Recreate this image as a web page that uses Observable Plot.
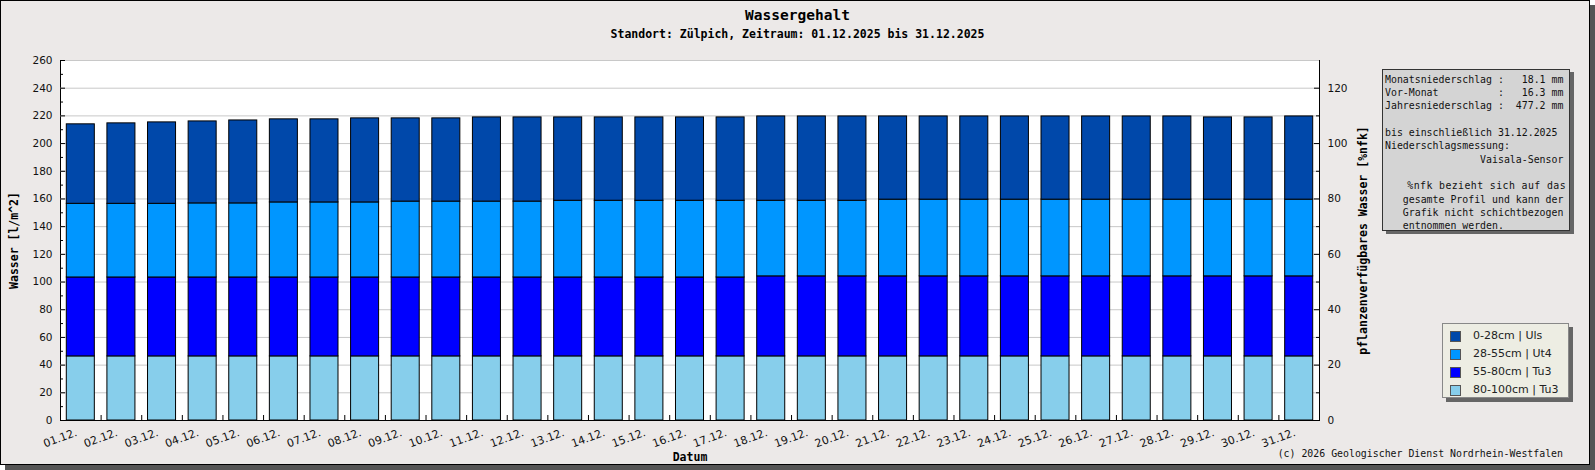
<!DOCTYPE html>
<html>
<head>
<meta charset="utf-8">
<script src="https://cdn.jsdelivr.net/npm/d3@7"></script>
<script src="https://cdn.jsdelivr.net/npm/@observablehq/plot@0.6"></script>
<style>
  html, body { margin: 0; padding: 0; background: #ffffff; }
  #wrap { position: relative; width: 1595px; height: 470px; overflow: hidden; }
  #bg { position: absolute; left: 0; top: 0; width: 1590px; height: 465px; box-sizing: border-box;
        border: 1px solid #000; background: #ECE9E8; box-shadow: 5px 5px 0 #555; }
  #chart { position: absolute; left: 0; top: 0; }
  .mono { font-family: "DejaVu Sans Mono", monospace; }
  #title { position: absolute; left: 0; width: 1595px; top: 5px; line-height: 20px; text-align: center;
           font-weight: bold; font-size: 14.5px; color: #000; }
  #subtitle { position: absolute; left: 0; width: 1595px; top: 26px; line-height: 16px; text-align: center;
              font-weight: bold; font-size: 11.5px; color: #000; }
  #caption { position: absolute; right: 32px; top: 447px; line-height: 14px; font-size: 9.9px; color: #111; white-space: pre; }
  #info { position: absolute; left: 1382px; top: 69px; width: 188px; height: 162px; box-sizing: border-box;
          border: 1px solid #333; background: #D4D4D4; box-shadow: 4px 3px 0 #666; padding: 2.7px 0 0 2px; }
  #info div { white-space: pre; font-size: 9.9px; line-height: 13.33px; height: 13.33px; color: #111; width: 181px; }
  #legend { position: absolute; left: 1442px; top: 323px; width: 127px; height: 75px; box-sizing: border-box;
            border: 1px solid #888; background: #EDEDE3; box-shadow: 4px 4px 0 #666;
            font-family: "DejaVu Sans", sans-serif; font-size: 11px; color: #222; }
  .row { position: absolute; left: 7px; height: 18px; line-height: 18px; white-space: nowrap; }
  .sw { position: absolute; left: 0; top: 4px; width: 11px; height: 11px; box-sizing: border-box; border: 1px solid #555; }
  .lab { position: absolute; left: 23px; top: 0; }
</style>
</head>
<body>
<div id="wrap">
  <div id="bg"></div>
  <div id="chart"></div>
  <div id="title" class="mono">Wassergehalt</div>
  <div id="subtitle" class="mono">Standort: Zülpich, Zeitraum: 01.12.2025 bis 31.12.2025</div>
  <div id="info" class="mono"></div>
  <div id="legend"></div>
  <div id="caption" class="mono">(c) 2026 Geologischer Dienst Nordrhein-Westfalen</div>
</div>
<script>
// ---------- data ----------
const days = ["01.12.","02.12.","03.12.","04.12.","05.12.","06.12.","07.12.","08.12.","09.12.","10.12.",
  "11.12.","12.12.","13.12.","14.12.","15.12.","16.12.","17.12.","18.12.","19.12.","20.12.",
  "21.12.","22.12.","23.12.","24.12.","25.12.","26.12.","27.12.","28.12.","29.12.","30.12.","31.12."];

const layers = ["0-28cm | Uls", "28-55cm | Ut4", "55-80cm | Tu3", "80-100cm | Tu3"];
const layerColors = ["#0048AA", "#0096FF", "#0000FF", "#87CEEB"];

// water per layer [l/m^2]
const layer0_28 = [57.4,58.1,58.8,59.2,59.9,60.0,60.0,60.7,60.1,60.1,60.8,60.8,60.2,60.2,60.2,60.2,60.2,
  60.9,60.9,60.9,60.1,60.1,60.1,60.1,60.1,60.1,60.1,60.1,59.4,59.4,60.1];
const layer28_55 = [53.2,53.2,53.2,53.5,53.5,54.2,54.2,54.2,54.8,54.8,54.8,54.8,55.4,55.4,55.4,55.4,55.4,
  54.6,54.6,54.6,55.4,55.4,55.4,55.4,55.4,55.4,55.4,55.4,55.4,55.4,55.4];
const layer55_80 = [57.0,57.0,57.0,57.0,57.0,57.0,57.0,57.0,57.0,57.0,57.0,57.0,57.0,57.0,57.0,57.0,57.0,
  57.8,57.8,57.8,57.8,57.8,57.8,57.8,57.8,57.8,57.8,57.8,57.8,57.8,57.8];
const layer80_100 = [46.3,46.3,46.3,46.3,46.3,46.3,46.3,46.3,46.3,46.3,46.3,46.3,46.3,46.3,46.3,46.3,46.3,
  46.3,46.3,46.3,46.3,46.3,46.3,46.3,46.3,46.3,46.3,46.3,46.3,46.3,46.3];

const yTicks = [0,20,40,60,80,100,120,140,160,180,200,220,240,260];
const yMinor = [10,30,50,70,90,110,130,150,170,190,210,230,250];
const rightTicks = [0,20,40,60,80,100,120];
const rightMinor = [10,30,50,70,90,110];
const rightPerLeft = 0.5; // right axis [%nfk] spans 0..130 over left 0..260

const infoLines = [
  "Monatsniederschlag :   18.1 mm",
  "Vor-Monat          :   16.3 mm",
  "Jahresniederschlag :  477.2 mm",
  "",
  "bis einschließlich 31.12.2025",
  "Niederschlagsmessung:",
  "                Vaisala-Sensor",
  "",
  "%nfk bezieht sich auf das",
  "   gesamte Profil und kann der",
  "   Grafik nicht schichtbezogen",
  "   entnommen werden."
];

// ---------- build table (stack bottom to top) ----------
const seriesByLayer = [layer0_28, layer28_55, layer55_80, layer80_100];
const table = [];
for (let i = layers.length - 1; i >= 0; --i) {
  days.forEach((d, j) => table.push({day: d, layer: layers[i], value: seriesByLayer[i][j]}));
}

// ---------- plot ----------
const W = 1595, H = 470, mL = 60, mR = 276, mT = 60, mB = 50;
const innerW = W - mL - mR, innerH = H - mT - mB;
const step = innerW / days.length;
const monoBold = {fontFamily: "DejaVu Sans Mono", fontWeight: "bold", fontSize: 11.5, fill: "#000", textAnchor: "middle"};

const chart = Plot.plot({
  width: W, height: H,
  marginLeft: mL, marginRight: mR, marginTop: mT, marginBottom: mB,
  style: {background: "transparent", fontFamily: "DejaVu Sans", fontSize: "10.5px", color: "#111", overflow: "visible"},
  x: {type: "band", domain: days, paddingInner: 0.31, paddingOuter: 0.155, round: false, axis: null},
  y: {domain: [0, 260], axis: null},
  color: {domain: layers, range: layerColors},
  marks: [
    Plot.frame({fill: "white", stroke: "black"}),
    Plot.gridY(yTicks.slice(1), {stroke: "#c8c8c8", strokeOpacity: 1}),
    Plot.barY(table, {x: "day", y: "value", fill: "layer", stroke: "black", strokeWidth: 1}),
    Plot.ruleY([0], {stroke: "black"}),
    Plot.ruleY(yTicks, {y: d => d, insetRight: innerW - 5, stroke: "black"}),
    Plot.ruleY(yMinor, {y: d => d, insetRight: innerW - 3, stroke: "black"}),
    Plot.ruleY(rightTicks, {y: d => d / rightPerLeft, insetLeft: innerW - 5, stroke: "black"}),
    Plot.ruleY(rightMinor, {y: d => d / rightPerLeft, insetLeft: innerW - 3, stroke: "black"}),
    Plot.ruleX(days.slice(1), {x: d => d, dx: -step / 2, insetTop: innerH - 5, stroke: "black"}),
    Plot.text(yTicks, {y: d => d, text: d => String(d), frameAnchor: "left", dx: -8, textAnchor: "end", fill: "#111"}),
    Plot.text(rightTicks, {y: d => d / rightPerLeft, text: d => String(d), frameAnchor: "right", dx: 8, textAnchor: "start", fill: "#111"}),
    Plot.text(days, {x: d => d, text: d => d, frameAnchor: "bottom", rotate: -20, textAnchor: "end", dx: -3, dy: 15, fontSize: 11, fill: "#111"}),
    Plot.text(["Wasser [l/m^2]"], {text: d => d, frameAnchor: "left", dx: -46, rotate: -90, ...monoBold}),
    Plot.text(["pflanzenverfügbares Wasser [%nfk]"], {text: d => d, frameAnchor: "right", dx: 44, rotate: -90, ...monoBold}),
    Plot.text(["Datum"], {text: d => d, frameAnchor: "bottom", dy: 40, ...monoBold})
  ]
});
document.getElementById("chart").appendChild(chart);

// ---------- info box ----------
const info = document.getElementById("info");
infoLines.forEach((t, i) => {
  const div = document.createElement("div");
  div.textContent = t;
  if (i === 8) { div.style.textAlign = "right"; div.style.letterSpacing = "0.4px"; }
  info.appendChild(div);
});

// ---------- legend ----------
const legend = document.getElementById("legend");
const rowCenters = [12, 30, 48, 66];
layers.forEach((l, i) => {
  const row = document.createElement("div");
  row.className = "row";
  row.style.top = (rowCenters[i] - 9) + "px";
  const sw = document.createElement("div");
  sw.className = "sw";
  sw.style.background = layerColors[i];
  const lab = document.createElement("div");
  lab.className = "lab";
  lab.textContent = l;
  row.appendChild(sw); row.appendChild(lab);
  legend.appendChild(row);
});
</script>
</body>
</html>
